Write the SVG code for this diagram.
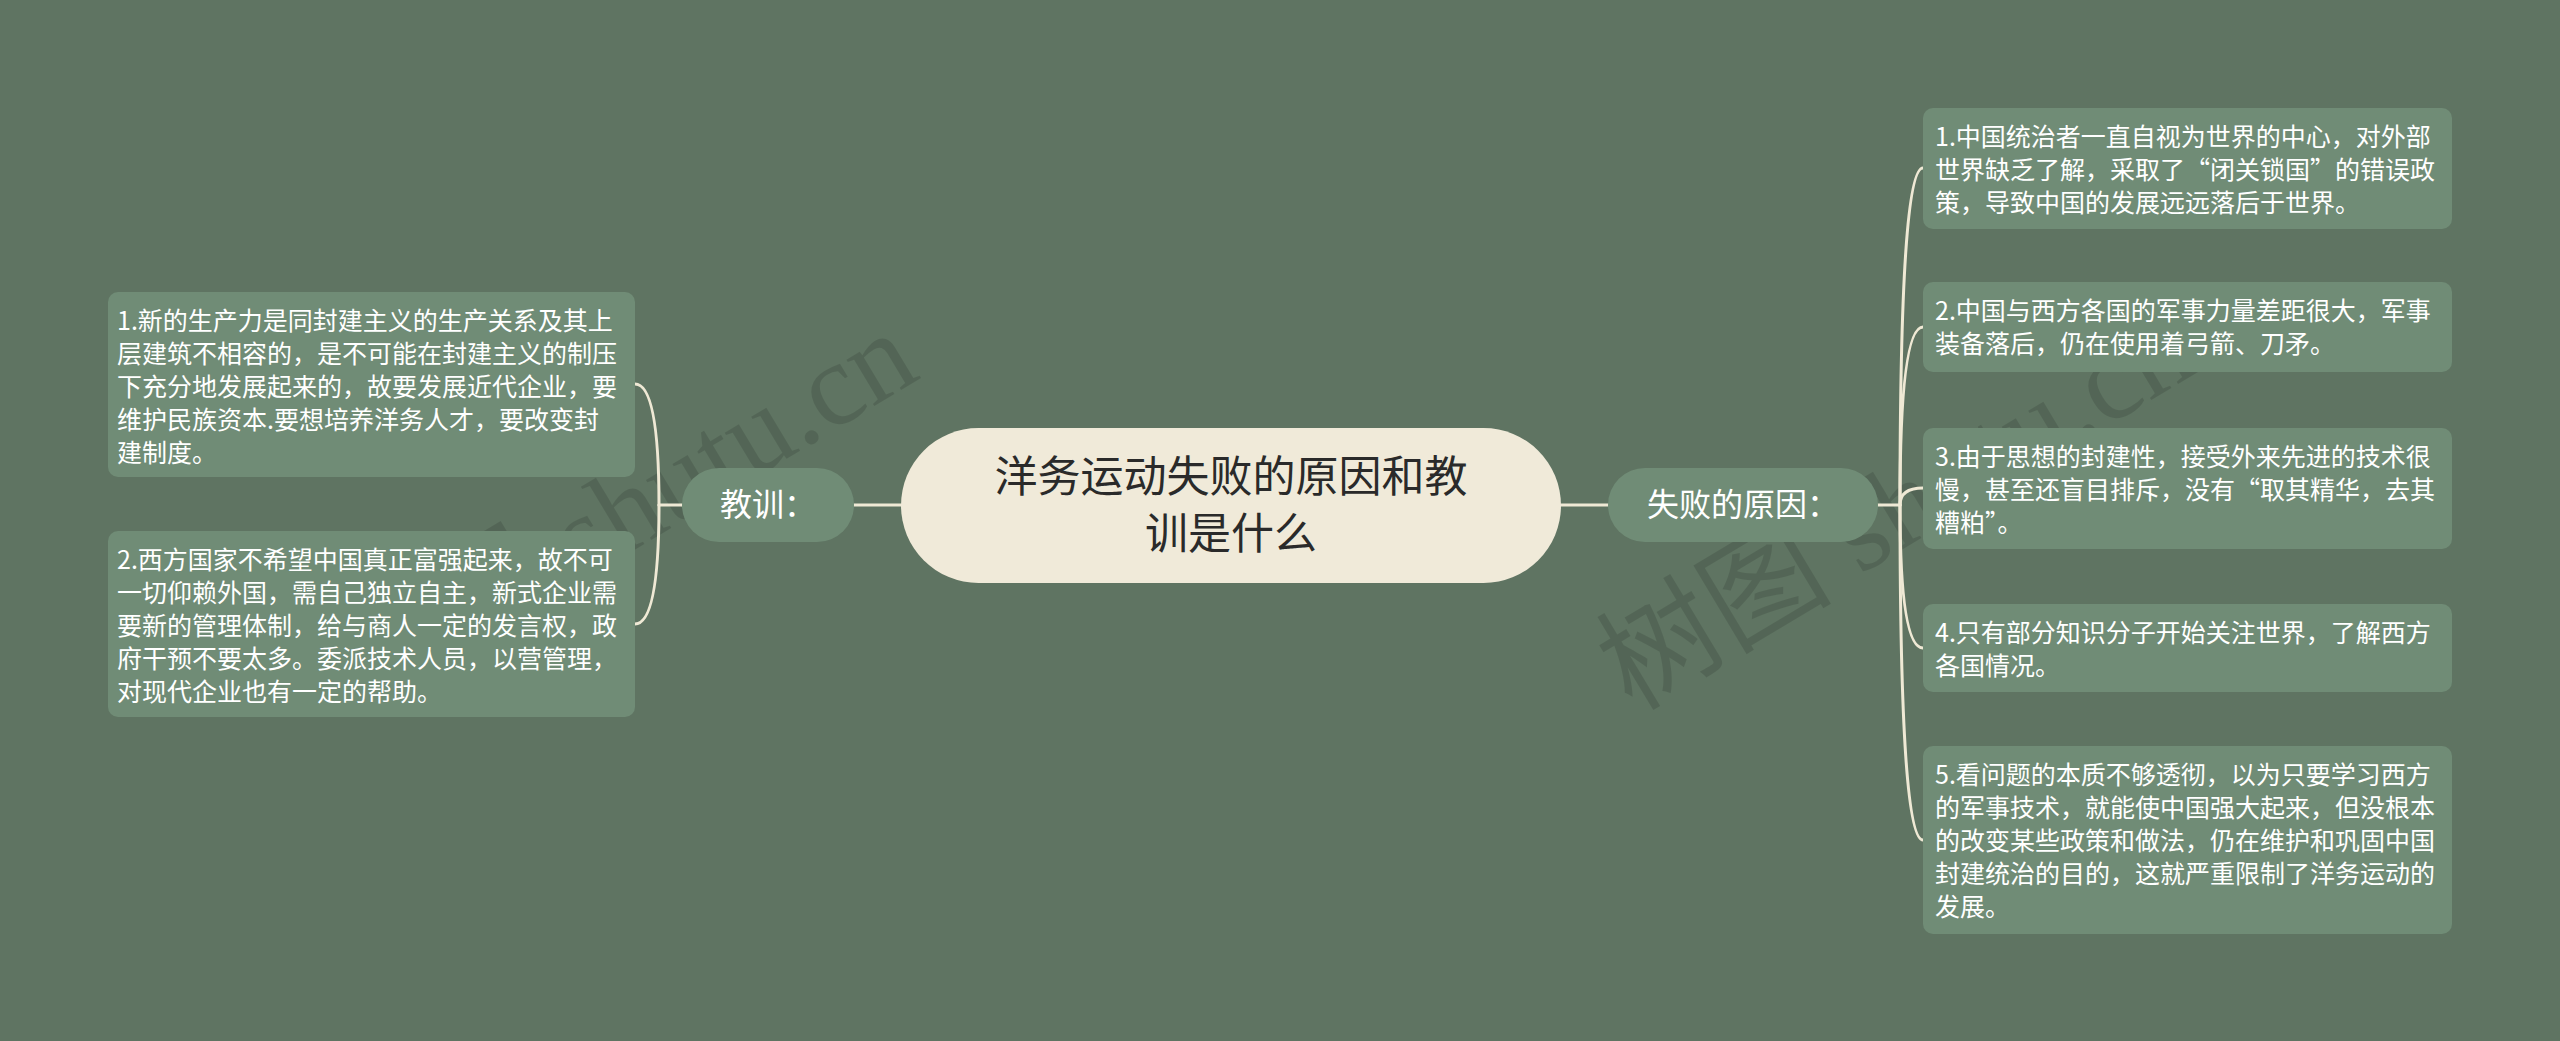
<svg xmlns="http://www.w3.org/2000/svg" width="2560" height="1041" viewBox="0 0 2560 1041">
<style>
.bg{fill:#5f7462}
.leaf rect{fill:#708c76}
.leaf text,.sub text{font-family:"Noto Sans CJK SC","Noto Sans",sans-serif;fill:#ffffff}
.leaf text{font-size:25px}
.sub rect{fill:#708c76}
.sub text{font-size:32px}
.root rect{fill:#f0ead9}
.root text{font-family:"Noto Sans CJK SC","Noto Sans",sans-serif;font-size:43px;fill:#2a2a2a}
.conn path{fill:none;stroke:#efe9d5;stroke-width:3;stroke-linecap:round}
.wm{font-family:"Liberation Serif","Noto Sans CJK SC",serif;font-size:118px;fill:#000;fill-opacity:0.12}
</style>
<rect class="bg" x="0" y="0" width="2560" height="1041"/>
<g id="watermarks">
<text class="wm" transform="translate(355 718) rotate(-31)">树图 shutu.cn</text>
<text class="wm" transform="translate(1632 712) rotate(-31)">树图 shutu.cn</text>
</g>
<g id="connectors" class="conn">
<path d="M901 505 H854"/>
<path d="M1561 505 H1608"/>
<path d="M682 505 H659"/>
<path d="M659 505 Q659 384 635 384"/>
<path d="M659 505 Q659 624 635 624"/>
<path d="M1878 505 H1900"/>
<path d="M1900 505 Q1900 168 1923 168"/>
<path d="M1900 505 Q1900 327 1923 327"/>
<path d="M1900 505 Q1900 488 1923 488"/>
<path d="M1900 505 Q1900 648 1923 648"/>
<path d="M1900 505 Q1900 840 1923 840"/>
</g>
<g id="root" class="root">
<rect x="901" y="428" width="660" height="155" rx="77.5"/>
<text x="1231" y="492" text-anchor="middle">洋务运动失败的原因和教</text>
<text x="1231" y="549" text-anchor="middle">训是什么</text>
</g>
<g id="lesson" class="sub">
<rect x="682" y="468" width="172" height="74" rx="37"/>
<text x="768" y="516" text-anchor="middle">教训：</text>
</g>
<g id="reason" class="sub">
<rect x="1608" y="468" width="270" height="74" rx="37"/>
<text x="1743" y="516" text-anchor="middle">失败的原因：</text>
</g>
<g id="lesson1" class="leaf">
<rect x="108" y="292" width="527" height="185" rx="10"/>
<text x="117" y="330">1.新的生产力是同封建主义的生产关系及其上</text>
<text x="117" y="363">层建筑不相容的，是不可能在封建主义的制压</text>
<text x="117" y="396">下充分地发展起来的，故要发展近代企业，要</text>
<text x="117" y="429">维护民族资本.要想培养洋务人才，要改变封</text>
<text x="117" y="462">建制度。</text>
</g>
<g id="lesson2" class="leaf">
<rect x="108" y="531" width="527" height="186" rx="10"/>
<text x="117" y="569">2.西方国家不希望中国真正富强起来，故不可</text>
<text x="117" y="602">一切仰赖外国，需自己独立自主，新式企业需</text>
<text x="117" y="635">要新的管理体制，给与商人一定的发言权，政</text>
<text x="117" y="668">府干预不要太多。委派技术人员，以营管理，</text>
<text x="117" y="701">对现代企业也有一定的帮助。</text>
</g>
<g id="reason1" class="leaf">
<rect x="1923" y="108" width="529" height="121" rx="10"/>
<text x="1935" y="146">1.中国统治者一直自视为世界的中心，对外部</text>
<text x="1935" y="179">世界缺乏了解，采取了“闭关锁国”的错误政</text>
<text x="1935" y="212">策，导致中国的发展远远落后于世界。</text>
</g>
<g id="reason2" class="leaf">
<rect x="1923" y="282" width="529" height="90" rx="10"/>
<text x="1935" y="320">2.中国与西方各国的军事力量差距很大，军事</text>
<text x="1935" y="353">装备落后，仍在使用着弓箭、刀矛。</text>
</g>
<g id="reason3" class="leaf">
<rect x="1923" y="428" width="529" height="121" rx="10"/>
<text x="1935" y="466">3.由于思想的封建性，接受外来先进的技术很</text>
<text x="1935" y="499">慢，甚至还盲目排斥，没有“取其精华，去其</text>
<text x="1935" y="532">糟粕”。</text>
</g>
<g id="reason4" class="leaf">
<rect x="1923" y="604" width="529" height="88" rx="10"/>
<text x="1935" y="642">4.只有部分知识分子开始关注世界，了解西方</text>
<text x="1935" y="675">各国情况。</text>
</g>
<g id="reason5" class="leaf">
<rect x="1923" y="746" width="529" height="188" rx="10"/>
<text x="1935" y="784">5.看问题的本质不够透彻，以为只要学习西方</text>
<text x="1935" y="817">的军事技术，就能使中国强大起来，但没根本</text>
<text x="1935" y="850">的改变某些政策和做法，仍在维护和巩固中国</text>
<text x="1935" y="883">封建统治的目的，这就严重限制了洋务运动的</text>
<text x="1935" y="916">发展。</text>
</g>
</svg>
